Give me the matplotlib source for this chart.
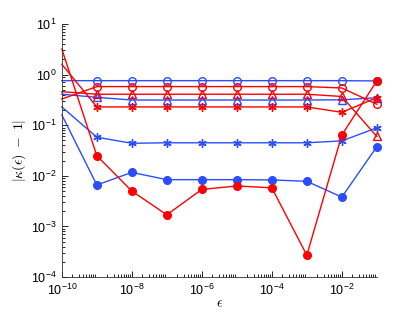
import numpy as np
import matplotlib.pyplot as plt
from matplotlib.ticker import LogLocator, NullFormatter

plt.rcParams['font.family'] = ['Liberation Sans', 'DejaVu Sans']
plt.rcParams['mathtext.fontset'] = 'cm'

eps = [1e-10, 1e-9, 1e-8, 1e-7, 1e-6, 1e-5, 1e-4, 1e-3, 1e-2, 1e-1]

# red series
red_circle = [0.33, 0.58, 0.58, 0.58, 0.58, 0.58, 0.58, 0.58, 0.545, 0.26]
red_triangle = [0.46, 0.41, 0.41, 0.41, 0.41, 0.41, 0.41, 0.41, 0.37, 0.06]
red_star = [1.6, 0.23, 0.23, 0.23, 0.23, 0.23, 0.23, 0.23, 0.18, 0.35]
red_dot = [3.2, 0.025, 0.005, 0.0017, 0.0054, 0.0063, 0.0058, 0.00027, 0.064, 0.75]

# blue series
blue_circle = [0.76, 0.76, 0.76, 0.76, 0.76, 0.76, 0.76, 0.76, 0.76, 0.75]
blue_triangle = [0.41, 0.356, 0.315, 0.315, 0.315, 0.315, 0.315, 0.315, 0.318, 0.35]
blue_star = [0.23, 0.058, 0.044, 0.045, 0.045, 0.045, 0.045, 0.045, 0.049, 0.089]
blue_dot = [0.16, 0.0066, 0.0117, 0.0084, 0.0084, 0.0084, 0.0083, 0.0078, 0.0038, 0.0376]

RED = '#ff0000'
BLUE = '#2a4dff'
ASTERISK = (6, 2, 0)

fig = plt.figure(figsize=(4.15, 3.12), dpi=100)
ax = fig.add_axes([0.149, 0.112, 0.759, 0.811])

series = [
    (blue_circle, BLUE, 'o', 'none', 5.5),
    (blue_triangle, BLUE, '^', 'none', 5.5),
    (blue_star, BLUE, ASTERISK, BLUE, 6),
    (blue_dot, BLUE, 'o', BLUE, 5.5),
    (red_circle, RED, 'o', 'none', 5.5),
    (red_triangle, RED, '^', 'none', 5.5),
    (red_star, RED, ASTERISK, RED, 6),
    (red_dot, RED, 'o', RED, 5.5),
]
for vals, col, mk, fc, ms in series:
    ax.plot(eps, vals, color=col, lw=1.0, marker=mk, ms=ms, mfc=fc, mec=col,
            mew=1.0, markevery=list(range(1, len(eps))), clip_on=False)

ax.set_xscale('log')
ax.set_yscale('log')
ax.set_xlim(1e-10, 1e-1)
ax.set_ylim(1e-4, 1e1)
ax.set_xticks([1e-10, 1e-8, 1e-6, 1e-4, 1e-2])
ax.xaxis.set_minor_locator(LogLocator(base=10, subs='auto', numticks=20))
ax.xaxis.set_minor_formatter(NullFormatter())
ax.tick_params(axis='x', which='minor', length=0)
ax.yaxis.set_major_locator(LogLocator(base=10, numticks=10))
ax.yaxis.set_minor_locator(LogLocator(base=10, subs=np.arange(2, 10), numticks=20))
ax.yaxis.set_minor_formatter(NullFormatter())
ax.tick_params(which='both', direction='in', labelsize=9, width=0.6)
ax.tick_params(which='major', length=4)
ax.tick_params(which='minor', length=2)
ax.tick_params(axis='x', pad=4)

for s in ['top', 'right']:
    ax.spines[s].set_visible(False)
for s in ['left', 'bottom']:
    ax.spines[s].set_linewidth(0.6)
    ax.spines[s].set_color('#333333')

ax.set_xlabel(r'$\epsilon$', fontsize=10, labelpad=-1)
ax.set_ylabel(r'$|\kappa(\epsilon)\ -\ 1|$', fontsize=10, labelpad=2)

fig.savefig('out.png', dpi=100)
